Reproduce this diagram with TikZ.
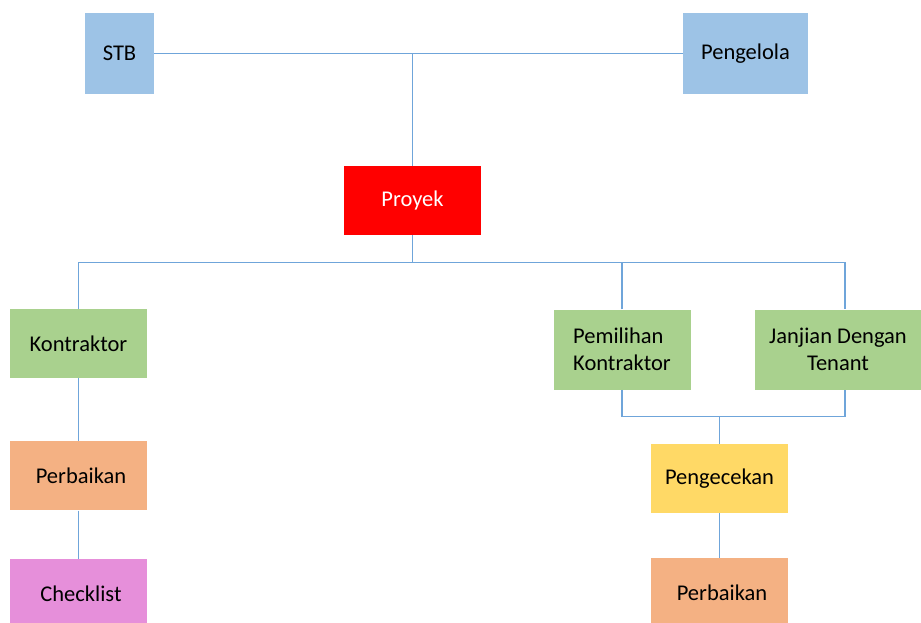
\documentclass[tikz,border=0pt]{standalone}
\usepackage{fontspec}
\setmainfont{Carlito}
\usetikzlibrary{positioning}
\definecolor{topblue}{HTML}{9DC3E6}
\definecolor{midgreen}{HTML}{A9D18E}
\definecolor{peach}{HTML}{F4B183}
\definecolor{orchid}{HTML}{E68FDA}
\definecolor{sunny}{HTML}{FFD966}
\definecolor{linkblue}{HTML}{6FA5DA}

\begin{document}
\begin{tikzpicture}[
  x=1pt, y=-1pt,
  node distance=63pt,
  box/.style={minimum width=137pt, minimum height=69pt, inner sep=0pt, align=center,
    font=\fontsize{22.5}{27}\selectfont},
  tall/.style={box, minimum height=80pt},
  link/.style={draw=linkblue, line width=1.2pt}
]
\useasboundingbox (0,0) rectangle (921,622);
\node[box, fill=topblue, minimum width=69pt, minimum height=81pt] (stb) at (119.5,53.5) {STB};
\node[box, fill=topblue, minimum width=125pt, minimum height=81pt] (pengelola) at (745.5,53.5) {Pengelola};
\node[box, fill=red, text=white] (proyek) at (412.5,200.5) {Proyek};
\node[box, fill=midgreen] (kontraktor) at (78.5,343.5) {Kontraktor};
\node[box, fill=peach, below=of kontraktor] (perbaikanA) {\hspace{5pt}Perbaikan};
\node[box, fill=orchid, below=48pt of perbaikanA] (checklist) {\hspace{5pt}Checklist};
\node[tall, fill=midgreen, align=left] (pemilihan) at (622,349.5) {Pemilihan\\Kontraktor};
\node[tall, fill=midgreen, minimum width=166pt] (janjian) at (838,349.5) {Janjian Dengan\\Tenant};
\node[box, fill=sunny] (pengecekan) at (719.5,478.5) {Pengecekan};
\node[box, fill=peach, below=45pt of pengecekan] (perbaikanB) {\hspace{5pt}Perbaikan};
% top level
\draw[link] (stb.east) -- (pengelola.west);
\draw[link] (stb.east -| proyek.north) -- (proyek.north);
% project bus
\draw[link] (proyek.south) -- ++(0,27) coordinate (hub);
\draw[link] (kontraktor.north) |- (hub) -| ([xshift=7pt]janjian.north);
\draw[link] (pemilihan.north) -- (pemilihan.north |- hub);
% left branch
\draw[link] (kontraktor) -- (perbaikanA);
\draw[link] (perbaikanA) -- (checklist);
% right branch
\draw[link] (pemilihan.south) -- ++(0,27) coordinate (join) -| ([xshift=7pt]janjian.south);
\draw[link] (join -| pengecekan.north) -- (pengecekan.north);
\draw[link] (pengecekan) -- (perbaikanB);
\end{tikzpicture}
\end{document}
